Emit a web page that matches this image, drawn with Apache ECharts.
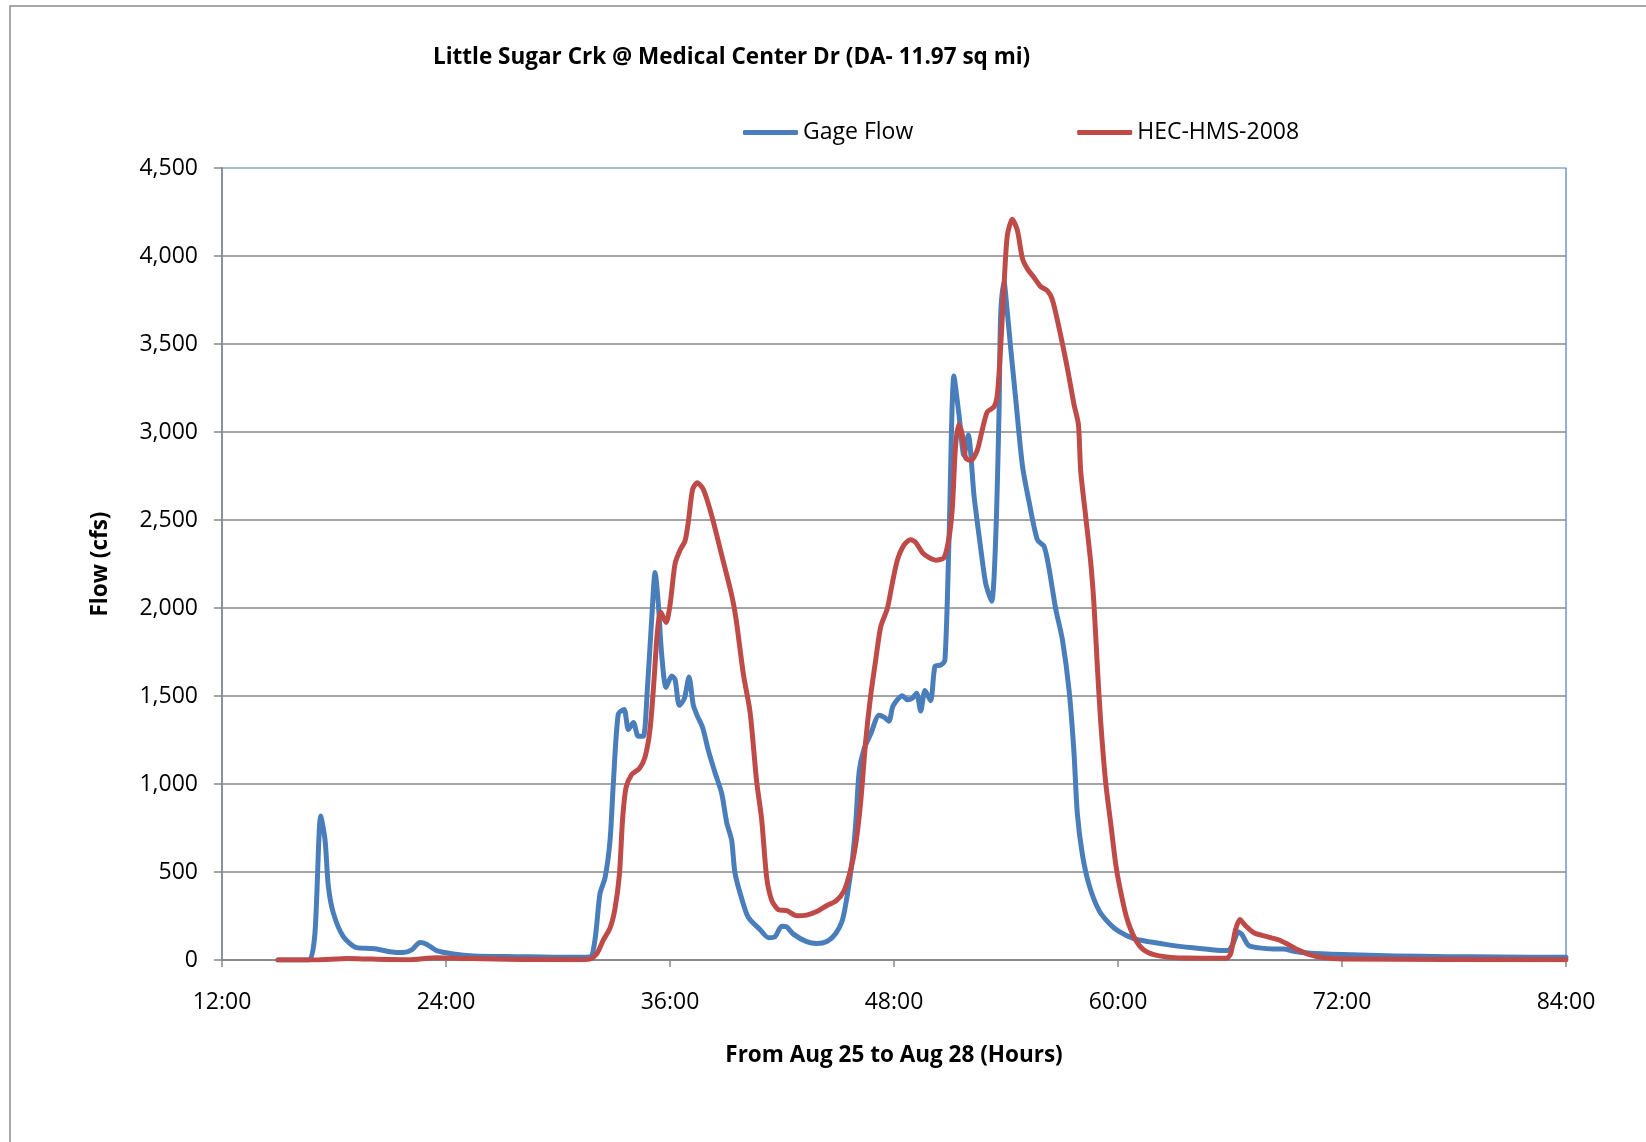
<!DOCTYPE html>
<html>
<head>
<meta charset="utf-8">
<script src="https://cdn.jsdelivr.net/npm/echarts@6/dist/echarts.min.js"></script>
<style>
html,body{margin:0;padding:0;background:#fff;}
#chart{width:1646px;height:1142px;}
</style>
</head>
<body>
<div id="chart"></div>
<script>
// Hours since Aug 25 00:00
const gageHours = [15.0,16.0,16.68,16.98,17.29,17.52,17.70,17.97,18.5,19.21,19.93,20.28,21.0,21.71,22.16,22.61,22.96,23.5,24.39,25.46,27.79,30.47,31.7,31.98,32.25,32.52,32.79,32.96,33.23,33.54,33.77,34.04,34.30,34.57,34.79,35.02,35.20,35.38,35.55,35.79,36.09,36.27,36.50,36.77,37.02,37.25,37.46,37.75,38.05,38.41,38.77,39.04,39.30,39.48,39.84,40.20,40.82,41.27,41.63,41.98,42.25,42.61,43.32,43.86,44.43,44.88,45.23,45.5,45.77,45.95,46.13,46.39,46.75,47.20,47.46,47.73,47.95,48.45,48.71,48.98,49.21,49.43,49.66,49.96,50.20,50.50,50.73,50.95,51.21,51.48,51.75,51.98,52.29,52.64,52.91,53.23,53.45,53.63,53.71,53.89,54.07,54.25,54.52,54.88,55.23,55.68,56.04,56.30,56.66,57.02,57.38,57.64,57.82,58.09,58.45,58.98,59.52,60.05,60.84,61.77,62.71,64.01,65.13,65.88,66.16,66.44,66.63,67.0,67.56,68.31,68.87,69.43,70.17,72.04,74.84,77.64,80.44,84.0];
const gageFlow = [0,0,0,152,818,682,417,265,133,70,66,63,47,42,57,99,90,53,34,23,19,15,17,114,378,467,682,996,1398,1424,1310,1349,1271,1271,1545,1938,2202,2016,1741,1549,1614,1594,1447,1486,1608,1447,1388,1320,1192,1065,947,780,682,496,349,241,173,127,133,192,188,147,104,94,107,151,224,369,572,776,1066,1197,1284,1391,1380,1357,1444,1502,1479,1487,1516,1415,1531,1473,1670,1676,1705,2402,3318,3100,2867,2983,2635,2344,2141,2039,2402,3129,3652,3855,3681,3477,3187,2809,2606,2388,2350,2228,1996,1821,1531,1182,834,601,427,282,209,162,121,102,86,69,57,54,92,159,146,82,69,63,63,50,40,31,23,19,17,15];

const hmsHours = [15.0,17.0,18.7,20.0,22.0,23.5,25.3,28.0,31.0,31.7,32.07,32.43,32.79,33.05,33.29,33.46,33.64,33.95,34.36,34.66,34.93,35.14,35.32,35.50,35.79,36.0,36.27,36.54,36.80,36.98,37.21,37.46,37.79,38.23,38.77,39.30,39.54,39.93,40.29,40.64,40.91,41.18,41.45,41.80,42.25,42.79,43.32,43.86,44.43,44.88,45.32,45.68,45.95,46.21,46.48,46.75,47.02,47.29,47.64,47.91,48.18,48.54,48.89,49.16,49.52,49.88,50.23,50.68,50.95,51.13,51.30,51.48,51.66,51.84,52.11,52.46,52.73,53.0,53.36,53.54,53.71,53.89,54.07,54.34,54.61,54.88,55.14,55.50,55.86,56.21,56.48,56.84,57.29,57.64,57.88,58.0,58.27,58.54,58.71,58.89,59.07,59.34,59.61,59.88,60.09,60.45,60.89,61.40,62.15,63.64,65.79,66.03,66.29,66.53,66.81,67.28,67.93,68.59,69.05,69.61,70.17,70.92,72.04,84.0];
const hmsFlow = [0,0,8,5,2,13,8,3,2,5,35,114,182,290,486,800,977,1055,1088,1153,1310,1584,1859,1977,1918,2016,2251,2330,2379,2487,2673,2712,2673,2526,2300,2075,1937,1624,1408,1016,800,467,339,286,280,251,255,275,311,334,392,514,659,892,1240,1502,1705,1894,1996,2141,2272,2359,2388,2373,2315,2286,2272,2286,2402,2577,2925,3042,2983,2853,2838,2896,3013,3114,3143,3216,3477,3826,4116,4209,4145,3986,3928,3878,3826,3803,3753,3593,3361,3158,3042,2780,2519,2257,2025,1676,1357,1008,776,543,416,246,125,55,25,11,10,34,169,230,197,155,134,115,92,59,34,15,6,2];

const seriesNames = ['Gage Flow', 'HEC-HMS-2008'];
const xTicks = [12, 24, 36, 48, 60, 72, 84];
const titleText = 'Little Sugar Crk @ Medical Center Dr (DA- 11.97 sq mi)';
const xName = 'From Aug 25 to Aug 28 (Hours)';
const yName = 'Flow (cfs)';

const zip = (a, b) => a.map((x, i) => [x, b[i]]);
const FONT = '"Open Sans", "Liberation Sans", sans-serif';
const GRID_GREY = '#878787';

const chart = echarts.init(document.getElementById('chart'), null, {renderer: 'canvas'});
chart.setOption({
  backgroundColor: '#ffffff',
  animation: false,
  title: {
    text: titleText,
    left: 428, top: 41,
    textStyle: {fontFamily: FONT, fontSize: 22.5, fontWeight: 'bold', color: '#000'}
  },
  legend: {
    left: 738, top: 116,
    itemWidth: 55, itemHeight: 5, itemGap: 164,
    icon: 'roundRect',
    textStyle: {fontFamily: FONT, fontSize: 23, color: '#000'},
    data: seriesNames
  },
  graphic: [{
    type: 'rect', silent: true, z: -10,
    shape: {x: 10, y: 6, width: 1700, height: 1200},
    style: {fill: 'none', stroke: '#8c8c8c', lineWidth: 1.5}
  }],
  grid: {
    left: 222, right: 80, top: 168, bottom: 182,
    show: true, borderColor: '#4A7EBB', borderWidth: 1.2, backgroundColor: 'transparent'
  },
  xAxis: {
    type: 'value', min: xTicks[0], max: xTicks[xTicks.length - 1], interval: 12,
    name: xName, nameLocation: 'middle', nameGap: 84,
    nameTextStyle: {fontFamily: FONT, fontSize: 22.5, fontWeight: 'bold', color: '#000'},
    axisLine: {show: true, lineStyle: {color: GRID_GREY, width: 1.5}},
    axisTick: {show: true, length: 7, lineStyle: {color: GRID_GREY, width: 1.5}},
    axisLabel: {margin: 31, fontFamily: FONT, fontSize: 23, color: '#000',
      formatter: v => v + ':00'},
    splitLine: {show: false}
  },
  yAxis: {
    type: 'value', min: 0, max: 4500, interval: 500,
    name: yName, nameLocation: 'middle', nameGap: 110,
    nameTextStyle: {fontFamily: FONT, fontSize: 22.5, fontWeight: 'bold', color: '#000'},
    axisLine: {show: true, lineStyle: {color: GRID_GREY, width: 1.5}},
    axisTick: {show: true, length: 8, lineStyle: {color: GRID_GREY, width: 1.5}},
    axisLabel: {margin: 24, fontFamily: FONT, fontSize: 23, color: '#000',
      formatter: v => v.toLocaleString('en-US')},
    splitLine: {show: true, showMaxLine: false, lineStyle: {color: GRID_GREY, width: 1.5}}
  },
  series: [
    {
      name: seriesNames[0], type: 'line', data: zip(gageHours, gageFlow),
      showSymbol: false, smooth: 0.25,
      itemStyle: {color: '#4A7EBB'},
      lineStyle: {color: '#4A7EBB', width: 5, cap: 'round', join: 'round'}
    },
    {
      name: seriesNames[1], type: 'line', data: zip(hmsHours, hmsFlow),
      showSymbol: false, smooth: 0.25,
      itemStyle: {color: '#BE4B48'},
      lineStyle: {color: '#BE4B48', width: 5, cap: 'round', join: 'round'}
    }
  ]
});
</script>
</body>
</html>
